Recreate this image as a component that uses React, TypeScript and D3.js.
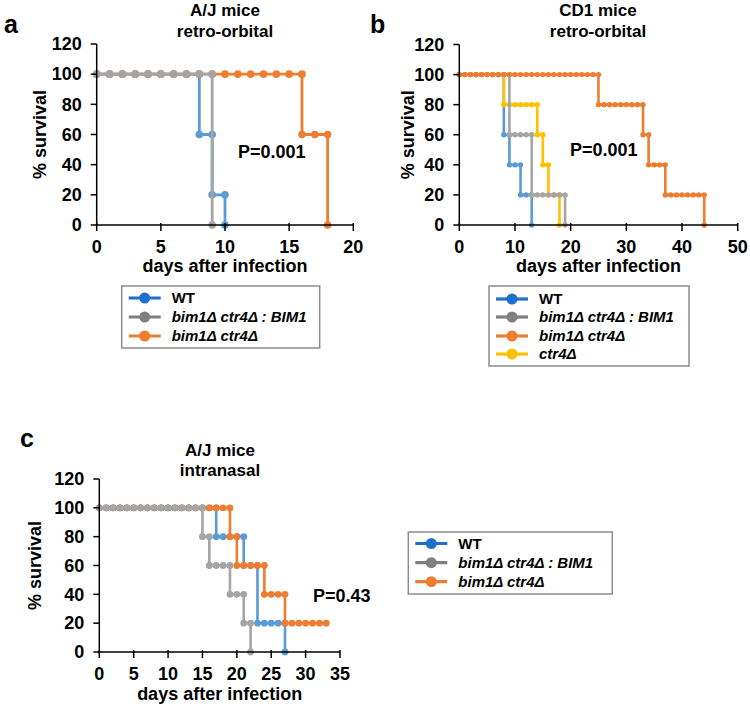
import React from 'react';
import * as d3 from 'd3';

// ---------- DATA ----------
// Panel a: A/J mice, retro-orbital
const aWTDays = [0, 1, 2, 3, 4, 5, 6, 7, 8, 8, 9, 9, 10, 10];
const aWTSurv = [100, 100, 100, 100, 100, 100, 100, 100, 100, 60, 60, 20, 20, 0];
const aBIM1Days = [0, 1, 2, 3, 4, 5, 6, 7, 8, 9, 9];
const aBIM1Surv = [100, 100, 100, 100, 100, 100, 100, 100, 100, 100, 0];
const aDKODays = [0, 1, 2, 3, 4, 5, 6, 7, 8, 9, 10, 11, 12, 13, 14, 15, 16, 16, 17, 18, 18];
const aDKOSurv = [100, 100, 100, 100, 100, 100, 100, 100, 100, 100, 100, 100, 100, 100, 100, 100, 100, 60, 60, 60, 0];

// Panel b: CD1 mice, retro-orbital
const bWTDays = [0, 1, 2, 3, 4, 5, 6, 7, 8, 8, 9, 9, 10, 11, 11, 12, 13, 13];
const bWTSurv = [100, 100, 100, 100, 100, 100, 100, 100, 100, 60, 60, 40, 40, 40, 20, 20, 20, 0];
const bCtr4Days = [0, 1, 2, 3, 4, 5, 6, 7, 8, 8, 9, 10, 11, 12, 13, 14, 14, 15, 15, 16, 16, 17, 18, 18];
const bCtr4Surv = [100, 100, 100, 100, 100, 100, 100, 100, 100, 80, 80, 80, 80, 80, 80, 80, 60, 60, 40, 40, 20, 20, 20, 0];
const bBIM1Days = [0, 1, 2, 3, 4, 5, 6, 7, 8, 9, 9, 10, 11, 12, 13, 13, 14, 15, 16, 17, 18, 19, 19];
const bBIM1Surv = [100, 100, 100, 100, 100, 100, 100, 100, 100, 100, 60, 60, 60, 60, 60, 20, 20, 20, 20, 20, 20, 20, 0];
const bDKODays = [0, 1, 2, 3, 4, 5, 6, 7, 8, 9, 10, 11, 12, 13, 14, 15, 16, 17, 18, 19, 20, 21, 22, 23, 24, 25,
  25, 26, 27, 28, 29, 30, 31, 32, 33, 33, 34, 34, 35, 36, 37, 37, 38, 39, 40, 41, 42, 43, 44, 44];
const bDKOSurv = [100, 100, 100, 100, 100, 100, 100, 100, 100, 100, 100, 100, 100, 100, 100, 100, 100, 100, 100, 100, 100, 100, 100, 100, 100, 100,
  80, 80, 80, 80, 80, 80, 80, 80, 80, 60, 60, 40, 40, 40, 40, 20, 20, 20, 20, 20, 20, 20, 20, 0];

// Panel c: A/J mice, intranasal
const cWTDays = [0, 1, 2, 3, 4, 5, 6, 7, 8, 9, 10, 11, 12, 13, 14, 15, 16, 17, 17, 18, 19, 20, 21, 21, 22, 23, 23, 24, 25, 26, 27, 27];
const cWTSurv = [100, 100, 100, 100, 100, 100, 100, 100, 100, 100, 100, 100, 100, 100, 100, 100, 100, 100, 80, 80, 80, 80, 80, 60, 60, 60, 20, 20, 20, 20, 20, 0];
const cBIM1Days = [0, 1, 2, 3, 4, 5, 6, 7, 8, 9, 10, 11, 12, 13, 14, 15, 15, 16, 16, 17, 18, 19, 19, 20, 21, 21, 22, 22];
const cBIM1Surv = [100, 100, 100, 100, 100, 100, 100, 100, 100, 100, 100, 100, 100, 100, 100, 100, 80, 80, 60, 60, 60, 60, 40, 40, 40, 20, 20, 0];
const cDKODays = [0, 1, 2, 3, 4, 5, 6, 7, 8, 9, 10, 11, 12, 13, 14, 15, 16, 17, 18, 19, 19, 20, 20, 21, 22, 23, 24, 24, 25, 26, 27, 27, 28, 29, 30, 31, 32, 33];
const cDKOSurv = [100, 100, 100, 100, 100, 100, 100, 100, 100, 100, 100, 100, 100, 100, 100, 100, 100, 100, 100, 100, 80, 80, 60, 60, 60, 60, 60, 40, 40, 40, 40, 20, 20, 20, 20, 20, 20, 20];

const yTicks = [0, 20, 40, 60, 80, 100, 120];
const aXTicks = [0, 5, 10, 15, 20];
const bXTicks = [0, 10, 20, 30, 40, 50];
const cXTicks = [0, 5, 10, 15, 20, 25, 30, 35];

const legendAC = ['WT', 'bim1Δ ctr4Δ : BIM1', 'bim1Δ ctr4Δ'];
const legendB = ['WT', 'bim1Δ ctr4Δ : BIM1', 'bim1Δ ctr4Δ', 'ctr4Δ'];

// ---------- STYLE ----------
const FONT = "'Liberation Sans', Arial, Helvetica, sans-serif";
const C = { blue: '#5B9BD5', gray: '#A5A5A5', orange: '#ED7D31', yellow: '#FFC000' };
const LC = { blue: '#1F6FCC', gray: '#7F7F7F', orange: '#ED7D31', yellow: '#FFC000' };

type Pt = [number, number];
const zip = (d: number[], s: number[]): Pt[] => d.map((v, i) => [v, s[i]] as Pt);

interface Series { pts: Pt[]; color: string }

function Panel(props: {
  x0: number; x1: number; y0: number; y1: number; xMax: number; xTicks: number[];
  series: Series[]; r: number; lw: number;
  titles: string[]; titleX: number; titleY: number[];
  ylabX: number; xlabY: number; p: string; px: number; py: number;
}) {
  const { x0, x1, y0, y1, xMax, xTicks, series, r, lw } = props;
  const x = d3.scaleLinear().domain([0, xMax]).range([x0, x1]);
  const y = d3.scaleLinear().domain([0, 120]).range([y0, y1]);
  const line = d3.line<Pt>().x(d => x(d[0])).y(d => y(d[1]));
  return (
    <g fontFamily={FONT} fontWeight="bold">
      {props.titles.map((t, i) => (
        <text key={t} x={props.titleX} y={props.titleY[i]} textAnchor="middle" fontSize={17}>{t}</text>
      ))}
      {series.map((s, i) => (
        <g key={i}>
          <path d={line(s.pts) || ''} fill="none" stroke={s.color} strokeWidth={lw} />
          {s.pts.map((p, j) => (
            <circle key={j} cx={x(p[0])} cy={y(p[1])} r={r} fill={s.color} />
          ))}
        </g>
      ))}
      {/* axes */}
      <line x1={x0} x2={x0} y1={y1} y2={y0 + 1} stroke="#000" strokeWidth={1.5} />
      <line x1={x0 - 1} x2={x1} y1={y0} y2={y0} stroke="#000" strokeWidth={1.5} />
      {yTicks.map(t => (
        <g key={t}>
          <line x1={x0 - 6} x2={x0} y1={y(t)} y2={y(t)} stroke="#000" strokeWidth={1.5} />
          <text x={x0 - 15} y={y(t)} dy="0.35em" textAnchor="end" fontSize={18}>{t}</text>
        </g>
      ))}
      {xTicks.map(t => (
        <g key={t}>
          <line x1={x(t)} x2={x(t)} y1={y0 - 2} y2={y0 + 6} stroke="#000" strokeWidth={1.5} />
          <text x={x(t)} y={y0 + 22} dy="0.35em" textAnchor="middle" fontSize={18}>{t}</text>
        </g>
      ))}
      <text x={(x0 + x1) / 2} y={props.xlabY} dy="0.35em" textAnchor="middle" fontSize={18}>days after infection</text>
      <text transform={`translate(${props.ylabX},${(y0 + y1) / 2}) rotate(-90)`} dy="0.35em" textAnchor="middle" fontSize={18}>% survival</text>
      <text x={props.px} y={props.py} dy="0.35em" fontSize={18}>{props.p}</text>
    </g>
  );
}

function Legend(props: { x: number; y: number; w: number; h: number; rows: number[]; labels: string[]; colors: string[] }) {
  const { x, y, w, h, rows, labels, colors } = props;
  return (
    <g fontFamily={FONT} fontWeight="bold">
      <rect x={x} y={y} width={w} height={h} fill="#fff" stroke="#8c8c8c" strokeWidth={1.5} />
      {labels.map((l, i) => (
        <g key={l}>
          <line x1={x + 7} x2={x + 39} y1={rows[i]} y2={rows[i]} stroke={colors[i]} strokeWidth={3.2} />
          <circle cx={x + 23} cy={rows[i]} r={5.5} fill={colors[i]} />
          <text x={x + 50} y={rows[i]} dy="0.35em" fontSize={15} fontStyle={l === 'WT' ? 'normal' : 'italic'}>{l}</text>
        </g>
      ))}
    </g>
  );
}

export default function App() {
  const aSeries: Series[] = [
    { pts: zip(aWTDays, aWTSurv), color: C.blue },
    { pts: zip(aDKODays, aDKOSurv), color: C.orange },
    { pts: zip(aBIM1Days, aBIM1Surv), color: C.gray },
  ];
  const bSeries: Series[] = [
    { pts: zip(bWTDays, bWTSurv), color: C.blue },
    { pts: zip(bCtr4Days, bCtr4Surv), color: C.yellow },
    { pts: zip(bBIM1Days, bBIM1Surv), color: C.gray },
    { pts: zip(bDKODays, bDKOSurv), color: C.orange },
  ];
  const cSeries: Series[] = [
    { pts: zip(cWTDays, cWTSurv), color: C.blue },
    { pts: zip(cDKODays, cDKOSurv), color: C.orange },
    { pts: zip(cBIM1Days, cBIM1Surv), color: C.gray },
  ];
  return (
    <svg width={750} height={707} style={{ position: 'absolute', left: 0, top: 0, background: '#fff' }}>
      <rect width={750} height={707} fill="#fff" />
      <g fontFamily={FONT} fontWeight="bold" fontSize={25}>
        <text x={4} y={33}>a</text>
        <text x={370} y={33}>b</text>
        <text x={20} y={447}>c</text>
      </g>
      <Panel x0={96.7} x1={353.3} y0={225} y1={44} xMax={20} xTicks={aXTicks} series={aSeries} r={3.8} lw={2.8}
        titles={['A/J mice', 'retro-orbital']} titleX={225} titleY={[16, 37]} ylabX={40} xlabY={266}
        p="P=0.001" px={238} py={152} />
      <Panel x0={459.3} x1={737.7} y0={225} y1={44.5} xMax={50} xTicks={bXTicks} series={bSeries} r={2.7} lw={2.6}
        titles={['CD1 mice', 'retro-orbital']} titleX={598} titleY={[16, 37]} ylabX={408} xlabY={266}
        p="P=0.001" px={570} py={150} />
      <Panel x0={99.3} x1={340} y0={652} y1={479} xMax={35} xTicks={cXTicks} series={cSeries} r={3.4} lw={2.6}
        titles={['A/J mice', 'intranasal']} titleX={220} titleY={[456, 476]} ylabX={35} xlabY={694}
        p="P=0.43" px={313} py={596} />
      <Legend x={121.7} y={286} w={198} h={62} rows={[298, 317, 336]} labels={legendAC}
        colors={[LC.blue, LC.gray, LC.orange]} />
      <Legend x={489} y={286} w={200} h={80} rows={[299, 317, 336, 354]} labels={legendB}
        colors={[LC.blue, LC.gray, LC.orange, LC.yellow]} />
      <Legend x={408.3} y={532} w={204} h={62} rows={[543.5, 562.7, 581.7]} labels={legendAC}
        colors={[LC.blue, LC.gray, LC.orange]} />
    </svg>
  );
}
